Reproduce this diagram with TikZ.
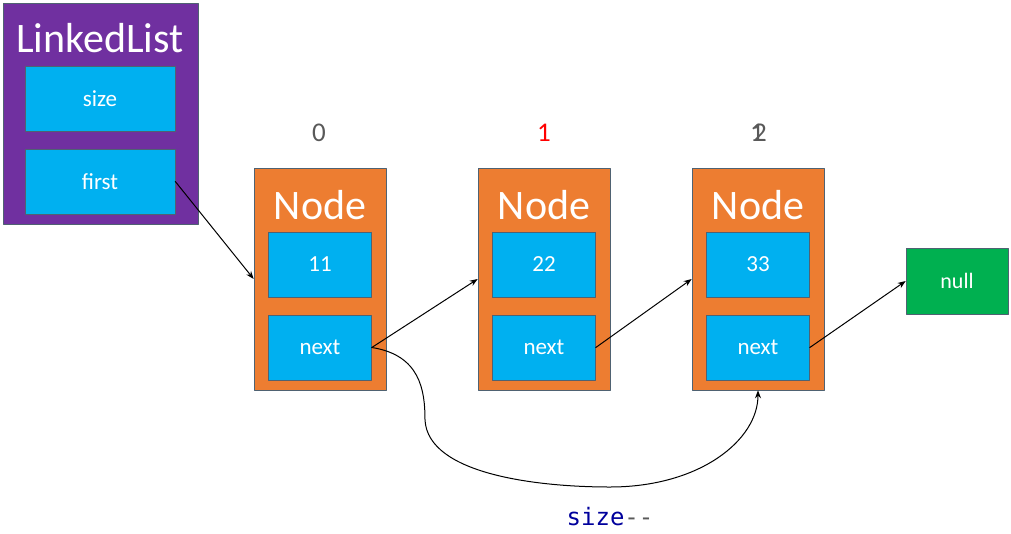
\documentclass[tikz,border=0pt]{standalone}
\usepackage{fontspec}
\setmainfont{Carlito}
\setmonofont{DejaVu Sans Mono}
\usetikzlibrary{calc,arrows.meta}
\definecolor{listpurple}{HTML}{7030A0}
\definecolor{nodeorange}{HTML}{ED7D31}
\definecolor{fieldblue}{HTML}{00B0F0}
\definecolor{nullgreen}{HTML}{00B050}
\definecolor{edgegray}{HTML}{4F6272}
\definecolor{idxgray}{HTML}{595959}
\definecolor{codeblue}{HTML}{00009C}
\begin{document}
\begin{tikzpicture}[x=1pt, y=-1pt, line join=round, line cap=round, >={Stealth[length=8pt,width=6pt]},
  outerbox/.style={draw=edgegray, line width=0.6pt, inner sep=0pt},
  listbox/.style={outerbox, fill=listpurple, minimum width=195, minimum height=221},
  nodebox/.style={outerbox, fill=nodeorange, minimum width=132, minimum height=222},
  field/.style={outerbox, fill=fieldblue, text=white, font=\fontsize{23}{26}\selectfont},
  wide/.style={field, minimum width=150, minimum height=65},
  cell/.style={field, minimum width=103, minimum height=65},
  title/.style={text=white, font=\fontsize{42}{46}\selectfont},
  idx/.style={text=idxgray, font=\fontsize{27}{30}\selectfont},
  link/.style={->, line width=1pt}]
\useasboundingbox (0,0) rectangle (1011,533);
% the list object
\node[listbox] (list) at (100.5,113.5) {};
\node[title] (listname) at (100,38) {LinkedList};
\node[wide] (size) at (100,98.5) {size};
\node[wide] (first) at (100,181.5) {first};
% the three nodes
\node[nodebox] (n0) at (320,279) {};
\node[nodebox] (n1) at (544,279) {};
\node[nodebox] (n2) at (758,279) {};
\foreach \i/\v in {0/11,1/22,2/33}{
  \node[title] (t\i) at ($(n\i)+(0,-74)$) {Node};
  \node[cell] (v\i) at ($(n\i)+(0,-14.5)$) {\v};
  \node[cell] (x\i) at ($(n\i)+(0,68.5)$) {next};
}
\node[outerbox, fill=nullgreen, text=white, font=\fontsize{22}{24}\selectfont,
  minimum width=102, minimum height=66] (null) at (957,281) {null};
% indices
\node[idx] (i0) at (319,133) {0};
\node[idx, text=red] (i1) at (544,133) {1};
\node[idx] (i2a) at (757,133) {1};
\node[idx] (i2b) at (760,133) {2};
% links
\draw[link] (first.east) -- (n0.west);
\draw[link] (x0.east) -- (n1.west);
\draw[link] (x1.east) -- (n2.west);
\draw[link] (x2.east) -- (null.west);
\draw[link] (x0.east) .. controls (420,355) and (425,390) .. (425,420)
  .. controls (428,475) and (540,487) .. (610,487)
  .. controls (700,487) and (758,440) .. (n2.south);
\node[font=\ttfamily\fontsize{24}{28}\selectfont] (dec) at (610,517)
  {\textcolor{codeblue}{size}\textcolor{idxgray}{--}};
\end{tikzpicture}
\end{document}
